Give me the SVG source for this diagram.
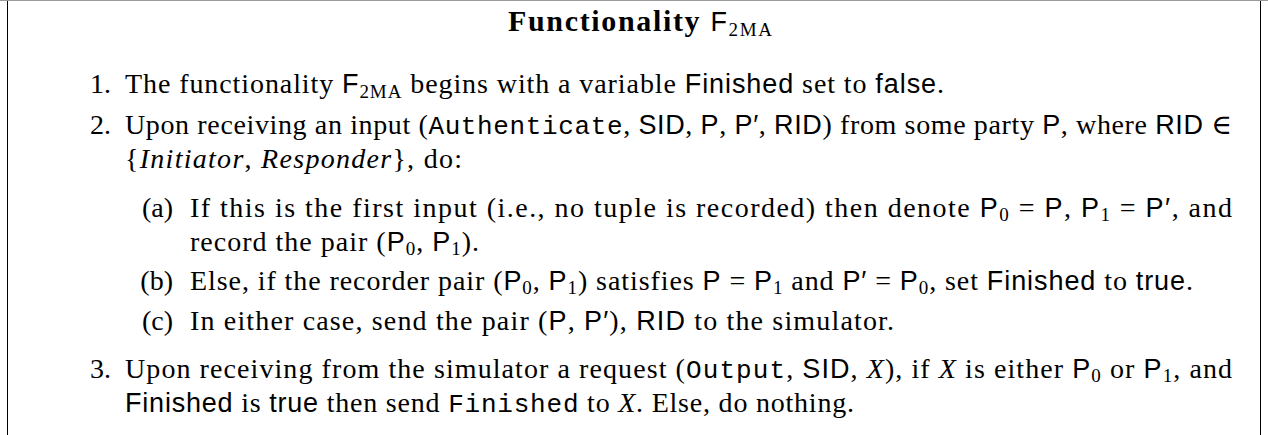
<svg xmlns="http://www.w3.org/2000/svg" width="1268" height="435" viewBox="0 0 1268 435">
<style>
text { font-family: "Liberation Serif", "DejaVu Serif", serif; font-size: 28px; fill: #000; }
.b { font-weight: bold; font-size: 30px; }
.n { font-weight: normal; }
.sf { font-family: "Liberation Sans", "DejaVu Sans", sans-serif; font-size: 27px; }
.tt { font-family: "Liberation Mono", "DejaVu Sans Mono", monospace; font-size: 26px; }
.it { font-style: italic; }
.sub { font-size: 19px; }
.frame { fill: none; stroke: #000; stroke-width: 1; }
.topline { stroke: #9a9a9a; stroke-width: 1; }
</style>
<rect width="1268" height="435" fill="#fff"/>
<line class="topline" x1="0" y1="0.5" x2="1268" y2="0.5"/>
<path class="frame" d="M7.5,435 V1 M1260.5,1 V435"/>

<g id="title">
<text class="b" x="508" y="31" textLength="264" lengthAdjust="spacing">Functionality <tspan class="sf n" font-size="27px">F</tspan><tspan class="sub n" font-size="19px" dy="5">2MA</tspan></text>
</g>

<g id="item1">
<text x="111" y="93" text-anchor="end">1.</text>
<text x="125" y="93" textLength="819" lengthAdjust="spacing">The functionality <tspan class="sf">F</tspan><tspan class="sub" dy="5">2MA</tspan><tspan dy="-5"> begins with a variable </tspan><tspan class="sf">Finished</tspan> set to <tspan class="sf">false</tspan>.</text>
</g>

<g id="item2">
<text x="111" y="134" text-anchor="end">2.</text>
<text x="125" y="134" textLength="1107" lengthAdjust="spacing">Upon receiving an input (<tspan class="tt">Authenticate</tspan>, <tspan class="sf">SID</tspan>, <tspan class="sf">P</tspan>, <tspan class="sf">P′</tspan>, <tspan class="sf">RID</tspan>) from some party <tspan class="sf">P</tspan>, where <tspan class="sf">RID</tspan> ∈</text>
<text x="125" y="168" textLength="337" lengthAdjust="spacing">{<tspan class="it">Initiator</tspan>, <tspan class="it">Responder</tspan>}, do:</text>
</g>

<g id="item2a">
<text x="173" y="217" text-anchor="end">(a)</text>
<text x="190" y="217" textLength="1042" lengthAdjust="spacing">If this is the first input (i.e., no tuple is recorded) then denote <tspan class="sf">P</tspan><tspan class="sub" dy="4">0</tspan><tspan dy="-4"> = </tspan><tspan class="sf">P</tspan>, <tspan class="sf">P</tspan><tspan class="sub" dy="4">1</tspan><tspan dy="-4"> = </tspan><tspan class="sf">P′</tspan>, and</text>
<text x="190" y="251" textLength="289" lengthAdjust="spacing">record the pair (<tspan class="sf">P</tspan><tspan class="sub" dy="4">0</tspan><tspan dy="-4">, </tspan><tspan class="sf">P</tspan><tspan class="sub" dy="4">1</tspan><tspan dy="-4">).</tspan></text>
</g>

<g id="item2b">
<text x="173" y="290" text-anchor="end">(b)</text>
<text x="190" y="290" textLength="1003" lengthAdjust="spacing">Else, if the recorder pair (<tspan class="sf">P</tspan><tspan class="sub" dy="4">0</tspan><tspan dy="-4">, </tspan><tspan class="sf">P</tspan><tspan class="sub" dy="4">1</tspan><tspan dy="-4">) satisfies </tspan><tspan class="sf">P</tspan> = <tspan class="sf">P</tspan><tspan class="sub" dy="4">1</tspan><tspan dy="-4"> and </tspan><tspan class="sf">P′</tspan> = <tspan class="sf">P</tspan><tspan class="sub" dy="4">0</tspan><tspan dy="-4">, set </tspan><tspan class="sf">Finished</tspan> to <tspan class="sf">true</tspan>.</text>
</g>

<g id="item2c">
<text x="173" y="330" text-anchor="end">(c)</text>
<text x="190" y="330" textLength="704" lengthAdjust="spacing">In either case, send the pair (<tspan class="sf">P</tspan>, <tspan class="sf">P′</tspan>), <tspan class="sf">RID</tspan> to the simulator.</text>
</g>

<g id="item3">
<text x="111" y="378" text-anchor="end">3.</text>
<text x="125" y="378" textLength="1107" lengthAdjust="spacing">Upon receiving from the simulator a request (<tspan class="tt">Output</tspan>, <tspan class="sf">SID</tspan>, <tspan class="it">X</tspan>), if <tspan class="it">X</tspan> is either <tspan class="sf">P</tspan><tspan class="sub" dy="4">0</tspan><tspan dy="-4"> or </tspan><tspan class="sf">P</tspan><tspan class="sub" dy="4">1</tspan><tspan dy="-4">, and</tspan></text>
<text x="125" y="412" textLength="729" lengthAdjust="spacing"><tspan class="sf">Finished</tspan> is <tspan class="sf">true</tspan> then send <tspan class="tt">Finished</tspan> to <tspan class="it">X</tspan>. Else, do nothing.</text>
</g>
</svg>
